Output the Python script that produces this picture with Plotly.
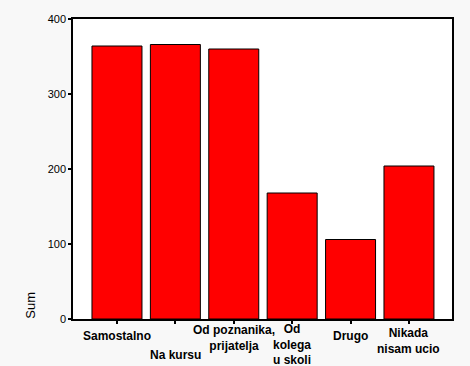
import plotly.graph_objects as go

categories = ["Samostalno", "Na kursu", "Od poznanika, prijatelja", "Od kolega u skoli", "Drugo", "Nikada nisam ucio"]
tick_labels = ["Samostalno", "Na kursu", "Od poznanika,<br>prijatelja", "Od<br>kolega<br>u skoli", "Drugo", "Nikada<br>nisam ucio"]
values = [364, 366, 360, 168, 106, 204]
y_ticks = [0, 100, 200, 300, 400]
label_shift = [-8, -27, -2, -1, -8, -5]

x_idx = list(range(len(categories)))

fig = go.Figure(go.Bar(
    x=x_idx, y=values,
    marker=dict(color="#ff0000", line=dict(color="#000000", width=1)),
    width=0.856,
    hovertext=categories,
))

annotations = []
for i, (lab, sh) in enumerate(zip(tick_labels, label_shift)):
    annotations.append(dict(
        x=i, xref="x", y=0, yref="paper", yanchor="top", xanchor="center",
        yshift=sh, text=lab, showarrow=False, align="center",
        font=dict(family="Liberation Sans, Arial", size=12, color="#000000", weight="bold"),
    ))
annotations.append(dict(
    x=-0.113, xref="paper", y=0.045, yref="paper", text="Sum", textangle=-90,
    showarrow=False, xanchor="center", yanchor="middle",
    font=dict(family="Liberation Sans, Arial", size=13, color="#000000"),
))

fig.update_layout(
    width=470, height=366,
    margin=dict(l=73, r=18, t=19, b=47, pad=0),
    paper_bgcolor="#f8f8f8", plot_bgcolor="#ffffff",
    showlegend=False,
    annotations=annotations,
    xaxis=dict(
        range=[-0.753, 5.737], tickvals=x_idx, showticklabels=False,
        ticks="outside", ticklen=3, tickwidth=2, tickcolor="#000000",
        showgrid=False, zeroline=False,
        showline=True, linecolor="#000000", linewidth=1.5, mirror=True,
    ),
    yaxis=dict(
        range=[0, 400], tickvals=y_ticks,
        ticks="outside", ticklen=3, tickwidth=2, tickcolor="#000000",
        tickfont=dict(family="Liberation Sans, Arial", size=11, color="#000000"),
        showgrid=False, zeroline=False,
        showline=True, linecolor="#000000", linewidth=1.5, mirror=True,
    ),
)

fig.write_html(
    "out.html",
    config={"displayModeBar": False},
    post_script="document.body.style.margin='0';document.body.style.overflow='hidden';",
)
